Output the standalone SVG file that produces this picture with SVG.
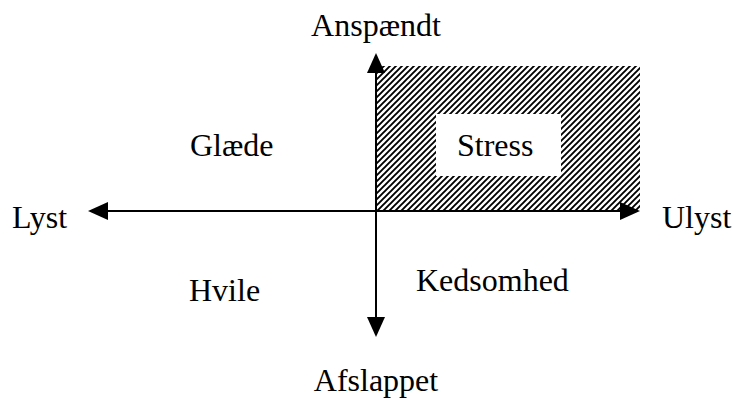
<svg xmlns="http://www.w3.org/2000/svg" width="733" height="403" viewBox="0 0 733 403">
<style>
text{font-family:"Liberation Serif","Times New Roman",serif;font-size:32px;fill:#000}
.ax{stroke:#000;stroke-width:2;fill:none}
.ah{fill:#000}
</style>
<defs>
<pattern id="hatch" patternUnits="userSpaceOnUse" width="6" height="6">
<path d="M0,6 L6,0 M-1,1 L1,-1 M5,7 L7,5" stroke="#000" stroke-width="1.9"/>
</pattern>
</defs>
<rect width="733" height="403" fill="#fff"/>
<g id="stress-area">
<rect x="376" y="66" width="264" height="144" fill="url(#hatch)"/>
<rect x="436" y="114" width="125" height="62" fill="#fff"/>
</g>
<g id="connectors">
<line class="ax" x1="376" y1="70" x2="376" y2="320"/>
<polygon class="ah" points="376,53 367,73 385,73"/>
<polygon class="ah" points="376,337 367,317 385,317"/>
<line class="ax" x1="105" y1="211" x2="622" y2="211"/>
<polygon class="ah" points="88,211 108,202 108,220"/>
<polygon class="ah" points="640,211 620,202 620,220"/>
</g>
<g id="anspaendt"><text x="376" y="36" text-anchor="middle">Anspændt</text></g>
<g id="afslappet"><text x="376" y="391" text-anchor="middle">Afslappet</text></g>
<g id="lyst"><text x="12" y="228">Lyst</text></g>
<g id="ulyst"><text x="662" y="228">Ulyst</text></g>
<g id="glaede"><text x="190" y="156">Glæde</text></g>
<g id="stress"><text x="457" y="156">Stress</text></g>
<g id="hvile"><text x="189" y="301">Hvile</text></g>
<g id="kedsomhed"><text x="416" y="291">Kedsomhed</text></g>
</svg>
